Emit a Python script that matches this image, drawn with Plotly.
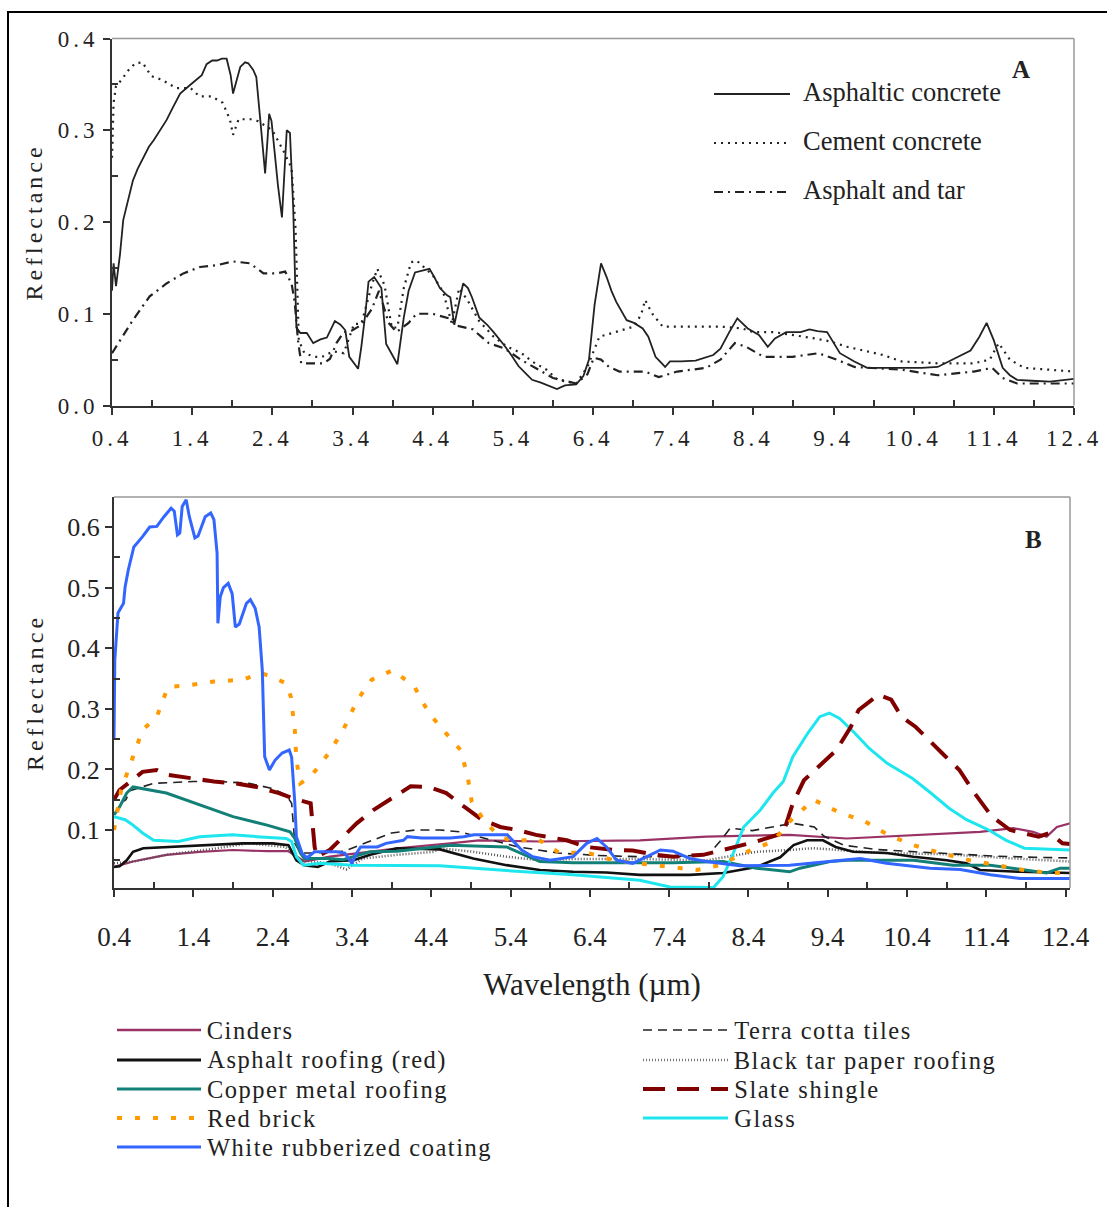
import plotly.graph_objects as go

W, H = 1107, 1207

# ---------------- Panel A data ----------------
asph_conc_x = [0.40,0.42,0.45,0.50,0.54,0.60,0.66,0.72,0.79,0.86,0.92,1.00,1.08,1.16,1.25,1.37,1.46,1.52,1.58,1.65,1.71,1.77,1.83,1.88,1.91,1.95,2.00,2.06,2.10,2.16,2.20,2.25,2.31,2.34,2.36,2.39,2.43,2.47,2.52,2.56,2.58,2.62,2.66,2.70,2.75,2.83,2.91,3.00,3.08,3.18,3.25,3.31,3.36,3.47,3.51,3.56,3.60,3.67,3.76,3.82,3.90,3.96,4.04,4.10,4.18,4.28,4.36,4.42,4.49,4.58,4.62,4.67,4.72,4.78,4.84,4.89,4.98,5.08,5.16,5.29,5.38,5.47,5.56,5.64,5.75,5.89,5.95,6.05,6.19,6.28,6.35,6.42,6.50,6.57,6.63,6.69,6.82,6.91,7.02,7.09,7.18,7.30,7.36,7.50,7.68,7.90,7.99,8.10,8.20,8.33,8.47,8.58,8.67,8.81,8.99,9.10,9.20,9.32,9.40,9.48,9.66,9.82,10.00,10.25,10.50,10.70,10.93,11.11,11.22,11.31,11.40,11.51,11.60,11.69,11.87,12.10,12.40]
asph_conc_y = [0.125,0.155,0.130,0.165,0.202,0.225,0.245,0.258,0.270,0.282,0.289,0.300,0.311,0.325,0.340,0.349,0.355,0.360,0.372,0.376,0.376,0.378,0.378,0.360,0.340,0.352,0.369,0.374,0.373,0.366,0.358,0.311,0.253,0.290,0.318,0.310,0.275,0.240,0.205,0.270,0.300,0.297,0.216,0.085,0.079,0.079,0.068,0.072,0.074,0.092,0.088,0.082,0.053,0.040,0.064,0.100,0.135,0.140,0.128,0.067,0.055,0.045,0.096,0.125,0.145,0.147,0.149,0.140,0.128,0.120,0.118,0.088,0.110,0.133,0.128,0.118,0.096,0.088,0.080,0.066,0.055,0.043,0.035,0.028,0.025,0.020,0.018,0.022,0.023,0.032,0.050,0.110,0.155,0.140,0.125,0.113,0.093,0.090,0.084,0.075,0.053,0.042,0.048,0.048,0.049,0.055,0.062,0.080,0.095,0.084,0.077,0.064,0.073,0.080,0.080,0.083,0.081,0.080,0.068,0.057,0.048,0.041,0.041,0.041,0.041,0.042,0.052,0.060,0.075,0.090,0.071,0.041,0.033,0.028,0.027,0.026,0.029]

cement_x = [0.40,0.42,0.45,0.52,0.60,0.69,0.78,0.89,1.02,1.20,1.38,1.49,1.64,1.78,1.87,1.91,1.98,2.13,2.22,2.40,2.53,2.64,2.69,2.71,2.73,2.80,2.93,3.02,3.16,3.29,3.42,3.51,3.64,3.71,3.80,3.89,3.96,4.04,4.13,4.20,4.31,4.40,4.53,4.64,4.73,4.84,4.98,5.16,5.33,5.51,5.64,5.82,5.96,6.19,6.33,6.48,6.64,6.91,7.00,7.05,7.14,7.27,7.99,8.26,8.40,8.66,9.17,9.35,9.57,10.02,10.25,10.70,11.15,11.35,11.46,11.60,11.78,12.40]
cement_y = [0.270,0.330,0.348,0.355,0.365,0.373,0.374,0.359,0.355,0.346,0.346,0.337,0.337,0.330,0.312,0.295,0.312,0.312,0.310,0.300,0.279,0.259,0.192,0.120,0.071,0.057,0.053,0.053,0.059,0.057,0.089,0.089,0.131,0.149,0.131,0.085,0.085,0.128,0.156,0.158,0.149,0.142,0.124,0.089,0.128,0.114,0.092,0.075,0.064,0.057,0.048,0.039,0.028,0.024,0.042,0.075,0.079,0.086,0.099,0.115,0.100,0.086,0.086,0.084,0.080,0.080,0.073,0.070,0.064,0.055,0.048,0.046,0.046,0.050,0.068,0.050,0.041,0.037]

tar_x = [0.40,0.50,0.66,0.87,1.08,1.29,1.50,1.71,1.91,2.12,2.29,2.45,2.56,2.64,2.68,2.72,2.76,2.91,3.04,3.12,3.20,3.29,3.40,3.51,3.64,3.73,3.85,3.95,4.10,4.20,4.40,4.60,4.70,4.90,5.00,5.10,5.30,5.50,5.70,5.90,6.19,6.33,6.41,6.50,6.60,6.73,7.05,7.22,7.45,7.81,7.99,8.17,8.31,8.53,8.89,9.21,9.44,9.66,10.25,10.70,11.15,11.38,11.51,11.69,12.40]
tar_y = [0.057,0.071,0.093,0.119,0.133,0.144,0.151,0.153,0.157,0.155,0.144,0.144,0.146,0.133,0.112,0.071,0.046,0.046,0.046,0.051,0.068,0.080,0.082,0.088,0.105,0.125,0.090,0.080,0.090,0.100,0.100,0.095,0.087,0.083,0.076,0.068,0.062,0.050,0.040,0.030,0.024,0.034,0.052,0.050,0.042,0.037,0.037,0.031,0.037,0.041,0.050,0.068,0.064,0.053,0.053,0.057,0.050,0.042,0.039,0.033,0.037,0.041,0.030,0.024,0.024]

# ---------------- Panel B data ----------------
cinders_x = [0.40,0.64,1.06,1.48,1.90,2.33,2.60,2.70,2.80,3.12,3.50,4.00,4.64,5.00,5.77,6.50,7.03,7.87,8.92,9.64,10.48,11.32,11.74,11.99,12.16,12.29,12.46]
cinders_y = [0.039,0.048,0.059,0.064,0.067,0.065,0.065,0.056,0.048,0.056,0.062,0.070,0.078,0.083,0.081,0.082,0.083,0.089,0.092,0.086,0.092,0.097,0.103,0.097,0.089,0.105,0.111]

roof_red_x = [0.40,0.47,0.56,0.64,0.77,1.06,1.60,2.02,2.40,2.60,2.70,2.80,2.97,3.12,3.42,3.63,3.97,4.51,4.93,5.35,5.77,6.19,6.61,7.03,7.66,8.08,8.50,8.80,8.97,9.14,9.34,9.50,9.72,10.14,10.48,10.90,11.15,11.32,11.83,12.46]
roof_red_y = [0.039,0.040,0.050,0.064,0.070,0.072,0.075,0.078,0.078,0.075,0.050,0.042,0.039,0.048,0.050,0.059,0.070,0.068,0.053,0.042,0.034,0.031,0.030,0.026,0.026,0.029,0.039,0.055,0.075,0.083,0.083,0.072,0.064,0.062,0.056,0.050,0.045,0.034,0.031,0.029]

copper_x = [0.40,0.47,0.56,0.64,1.06,1.48,1.90,2.33,2.62,2.68,2.75,2.80,3.12,3.29,3.42,3.63,3.97,4.43,4.64,5.35,5.55,5.77,6.19,7.45,8.08,8.50,8.92,9.05,9.43,9.64,10.48,10.98,11.45,11.74,12.16,12.33,12.46]
copper_y = [0.125,0.138,0.161,0.171,0.161,0.141,0.122,0.108,0.097,0.086,0.062,0.053,0.053,0.051,0.056,0.064,0.065,0.072,0.075,0.072,0.060,0.048,0.046,0.046,0.048,0.037,0.031,0.037,0.048,0.050,0.050,0.042,0.042,0.037,0.029,0.037,0.037]

brick_x = [0.40,0.49,0.58,0.67,0.76,0.94,1.08,1.35,1.66,2.03,2.25,2.39,2.57,2.63,2.68,2.70,2.75,2.88,3.11,3.29,3.47,3.65,3.92,4.19,4.37,4.55,4.77,4.86,4.91,5.09,5.27,5.45,5.73,6.02,6.36,6.70,7.08,7.41,7.75,8.04,8.40,8.71,8.92,9.22,9.53,9.87,10.16,10.48,10.82,11.19,11.53,11.87,12.20,12.46]
brick_y = [0.100,0.166,0.199,0.232,0.265,0.287,0.336,0.339,0.345,0.348,0.359,0.353,0.342,0.320,0.265,0.215,0.177,0.188,0.227,0.265,0.315,0.348,0.364,0.336,0.293,0.265,0.232,0.188,0.147,0.111,0.089,0.081,0.086,0.062,0.063,0.050,0.045,0.039,0.034,0.042,0.065,0.081,0.114,0.150,0.130,0.114,0.092,0.075,0.062,0.050,0.042,0.034,0.029,0.030]

rubber_x = [0.40,0.41,0.45,0.52,0.54,0.58,0.65,0.76,0.85,0.94,1.03,1.12,1.16,1.20,1.23,1.26,1.31,1.35,1.42,1.46,1.55,1.62,1.66,1.70,1.71,1.74,1.78,1.84,1.89,1.93,1.98,2.07,2.12,2.18,2.23,2.27,2.30,2.36,2.43,2.52,2.61,2.64,2.68,2.70,2.77,2.83,2.93,3.20,3.31,3.40,3.46,3.51,3.72,3.83,4.05,4.10,4.28,4.64,4.81,4.94,5.36,5.44,5.54,5.68,5.90,6.19,6.36,6.49,6.61,6.74,6.94,7.12,7.29,7.45,7.66,7.87,8.29,8.92,9.43,9.81,10.14,10.69,11.07,11.45,11.83,12.46]
rubber_y = [0.250,0.380,0.458,0.474,0.501,0.529,0.567,0.584,0.600,0.601,0.617,0.631,0.626,0.587,0.590,0.634,0.645,0.617,0.582,0.585,0.617,0.623,0.612,0.557,0.441,0.485,0.500,0.507,0.490,0.435,0.440,0.474,0.480,0.466,0.435,0.364,0.221,0.199,0.215,0.227,0.232,0.220,0.145,0.089,0.062,0.054,0.064,0.064,0.062,0.045,0.062,0.072,0.072,0.078,0.083,0.089,0.087,0.087,0.089,0.092,0.092,0.081,0.067,0.056,0.050,0.056,0.078,0.086,0.072,0.050,0.045,0.056,0.067,0.065,0.053,0.048,0.041,0.042,0.048,0.053,0.045,0.037,0.035,0.026,0.020,0.020]

terra_x = [0.49,0.55,0.60,0.76,0.90,1.40,1.74,2.10,2.38,2.57,2.64,2.68,2.75,2.93,3.30,3.60,3.90,4.20,4.51,4.76,5.10,5.50,6.00,6.50,7.00,7.50,7.90,8.04,8.17,8.45,8.70,8.96,9.23,9.35,9.60,10.00,10.50,11.00,11.50,12.00,12.46]
terra_y = [0.145,0.150,0.165,0.171,0.177,0.180,0.180,0.177,0.169,0.158,0.144,0.078,0.062,0.062,0.065,0.080,0.095,0.100,0.100,0.097,0.085,0.072,0.062,0.058,0.056,0.056,0.060,0.081,0.103,0.099,0.105,0.111,0.105,0.090,0.075,0.068,0.064,0.060,0.057,0.055,0.054]

tarpaper_x = [0.40,0.64,1.06,1.60,2.10,2.56,2.75,3.12,3.33,3.54,3.97,4.43,4.51,4.93,5.35,5.77,6.19,7.03,7.87,8.50,8.92,9.22,10.06,10.90,11.74,12.46]
tarpaper_y = [0.045,0.048,0.059,0.068,0.078,0.072,0.050,0.045,0.035,0.053,0.059,0.064,0.070,0.064,0.056,0.050,0.052,0.052,0.050,0.064,0.067,0.070,0.062,0.060,0.053,0.048]

slate_x = [0.40,0.47,0.58,0.76,0.94,1.07,1.40,1.66,1.93,2.20,2.48,2.66,2.88,2.90,2.93,2.96,3.12,3.29,3.46,3.67,3.88,4.14,4.37,4.59,4.82,5.04,5.27,5.49,5.72,6.11,6.36,6.70,6.94,7.24,7.45,7.83,8.08,8.50,8.84,8.96,9.10,9.37,9.51,9.69,9.79,10.04,10.20,10.33,10.51,10.84,11.06,11.25,11.47,11.70,12.06,12.20,12.36,12.46]
slate_y = [0.150,0.166,0.177,0.196,0.199,0.191,0.185,0.180,0.177,0.171,0.161,0.152,0.144,0.111,0.072,0.056,0.067,0.089,0.111,0.133,0.150,0.172,0.171,0.161,0.138,0.117,0.105,0.100,0.092,0.083,0.072,0.067,0.066,0.059,0.056,0.059,0.067,0.081,0.095,0.144,0.182,0.215,0.232,0.270,0.298,0.323,0.315,0.287,0.270,0.227,0.199,0.161,0.122,0.100,0.089,0.095,0.078,0.077]

glass_x = [0.40,0.54,0.62,0.69,0.76,0.90,1.21,1.48,1.89,2.20,2.57,2.64,2.70,2.79,3.00,3.42,4.51,5.35,6.19,7.03,7.41,7.96,8.08,8.21,8.34,8.55,8.71,8.84,8.96,9.15,9.30,9.42,9.55,9.74,9.92,10.15,10.47,10.70,10.93,11.15,11.43,11.65,11.88,12.46]
glass_y = [0.122,0.117,0.110,0.103,0.095,0.083,0.081,0.089,0.092,0.089,0.086,0.081,0.056,0.042,0.045,0.042,0.041,0.033,0.026,0.017,0.006,0.005,0.023,0.062,0.105,0.133,0.161,0.180,0.221,0.260,0.287,0.293,0.284,0.260,0.235,0.210,0.185,0.161,0.136,0.117,0.100,0.083,0.070,0.067]

x_ticks = [0.4, 1.4, 2.4, 3.4, 4.4, 5.4, 6.4, 7.4, 8.4, 9.4, 10.4, 11.4, 12.4]
x_tick_labels = ["0.4", "1.4", "2.4", "3.4", "4.4", "5.4", "6.4", "7.4", "8.4", "9.4", "10.4", "11.4", "12.4"]
yA_ticks = [0.0, 0.1, 0.2, 0.3, 0.4]
yA_tick_labels = ["0.0", "0.1", "0.2", "0.3", "0.4"]
yB_ticks = [0.1, 0.2, 0.3, 0.4, 0.5, 0.6]
yB_tick_labels = ["0.1", "0.2", "0.3", "0.4", "0.5", "0.6"]

FONT = "Liberation Serif, Times New Roman, serif"
TXT = "#222"
AX = "#333"
LEG_SPACING = 1.5  # px letter-spacing for panel B legend labels

def px(x):
    return x / W

def py(y):
    return 1 - y / H

fig = go.Figure()

# Panel A traces
fig.add_trace(go.Scatter(x=asph_conc_x, y=asph_conc_y, mode="lines", name="Asphaltic concrete",
                         line=dict(color="#222", width=1.8), xaxis="x", yaxis="y", showlegend=False))
fig.add_trace(go.Scatter(x=cement_x, y=cement_y, mode="lines", name="Cement concrete",
                         line=dict(color="#222", width=2.2, dash="2px,5px"), xaxis="x", yaxis="y", showlegend=False))
fig.add_trace(go.Scatter(x=tar_x, y=tar_y, mode="lines", name="Asphalt and tar",
                         line=dict(color="#222", width=2.2, dash="9px,5px,2px,5px"), xaxis="x", yaxis="y", showlegend=False))

# Panel B traces
b_series = [
    ("Cinders", cinders_x, cinders_y, "#993366", 2.2, "solid"),
    ("Black tar paper roofing", tarpaper_x, tarpaper_y, "#555555", 2.5, "1px,2px"),
    ("Terra cotta tiles", terra_x, terra_y, "#222222", 1.6, "9px,6px"),
    ("Asphalt roofing (red)", roof_red_x, roof_red_y, "#111111", 2.6, "solid"),
    ("Copper metal roofing", copper_x, copper_y, "#138078", 3, "solid"),
    ("Glass", glass_x, glass_y, "#1ee6ee", 3, "solid"),
    ("Slate shingle", slate_x, slate_y, "#800000", 4, "22px,12px"),
    ("Red brick", brick_x, brick_y, "#ff9a00", 4, "5px,13px"),
    ("White rubberized coating", rubber_x, rubber_y, "#3366ff", 3, "solid"),
]
for name, xs, ys, col, wd, ds in b_series:
    fig.add_trace(go.Scatter(x=xs, y=ys, mode="lines", name=name,
                             line=dict(color=col, width=wd, dash=ds),
                             xaxis="x2", yaxis="y2", showlegend=False))

common_axis = dict(showgrid=False, zeroline=False, showline=True, linecolor=AX, linewidth=2,
                   ticks="outside", ticklen=7, tickwidth=1.5, tickcolor=AX, automargin=False)

fig.update_layout(
    width=W, height=H,
    margin=dict(l=0, r=0, t=0, b=0),
    paper_bgcolor="white", plot_bgcolor="white",
    font=dict(family=FONT, color=TXT),
    xaxis=dict(domain=[px(112), px(1074)], range=[0.4, 12.4], anchor="y",
               tickmode="array", tickvals=x_ticks, ticktext=x_tick_labels,
               tickfont=dict(family=FONT, size=23, color=TXT), ticklabelstandoff=4,
               minor=dict(tickvals=[0.9 + i for i in range(12)], ticks="inside", ticklen=6, tickcolor=AX, tickwidth=1.5),
               **common_axis),
    yaxis=dict(domain=[py(405.5), py(38.5)], range=[0, 0.4], anchor="x",
               tickmode="array", tickvals=yA_ticks, ticktext=yA_tick_labels,
               tickfont=dict(family=FONT, size=23, color=TXT),
               minor=dict(tickvals=[0.05, 0.15, 0.25, 0.35], ticks="inside", ticklen=6, tickcolor=AX, tickwidth=1.5),
               title=dict(text="Reflectance", font=dict(family=FONT, size=24, color=TXT), standoff=20),
               **common_axis),
    xaxis2=dict(domain=[px(114), px(1070)], range=[0.4, 12.455], anchor="y2",
                tickmode="array", tickvals=x_ticks, ticktext=x_tick_labels,
                tickfont=dict(family=FONT, size=27, color=TXT), ticklabelstandoff=17,
                minor=dict(tickvals=[0.9 + i for i in range(12)], ticks="inside", ticklen=6, tickcolor=AX, tickwidth=1.5),
                title=dict(text="Wavelength (µm)", font=dict(family=FONT, size=31, color=TXT), standoff=22),
                **common_axis),
    yaxis2=dict(domain=[py(888), py(497)], range=[0.0043, 0.6495], anchor="x2",
                tickmode="array", tickvals=yB_ticks, ticktext=yB_tick_labels,
                tickfont=dict(family=FONT, size=26, color=TXT),
                minor=dict(tickvals=[0.05, 0.15, 0.25, 0.35, 0.45, 0.55], ticks="inside", ticklen=6, tickcolor=AX, tickwidth=1.5),
                title=dict(text="Reflectance", font=dict(family=FONT, size=24, color=TXT), standoff=17),
                **common_axis),
)

shapes = []
# frames (top/right light gray)
for xr, yr in (("x domain", "y domain"), ("x2 domain", "y2 domain")):
    shapes.append(dict(type="line", xref=xr, yref=yr, x0=0, x1=1, y0=1, y1=1, line=dict(color="#999", width=1.5)))
    shapes.append(dict(type="line", xref=xr, yref=yr, x0=1, x1=1, y0=0, y1=1, line=dict(color="#999", width=1.5)))
# outer border
shapes.append(dict(type="rect", xref="paper", yref="paper", x0=px(8), x1=1.05, y0=-0.05, y1=py(12),
                   line=dict(color="black", width=2), fillcolor="rgba(0,0,0,0)"))

annotations = []
# Legend A
legA = [("Asphaltic concrete", 94, "solid", 1.8), ("Cement concrete", 143, "2px,5px", 2.2), ("Asphalt and tar", 192, "9px,5px,2px,5px", 2.2)]
for label, yy, ds, wd in legA:
    shapes.append(dict(type="line", xref="paper", yref="paper", x0=px(714), x1=px(790), y0=py(yy), y1=py(yy),
                       line=dict(color="#222", width=wd, dash=ds)))
    annotations.append(dict(text=label, xref="paper", yref="paper", x=px(801), y=py(yy - 2), xanchor="left", yanchor="middle",
                            showarrow=False, font=dict(family=FONT, size=26.5, color=TXT)))
annotations.append(dict(text="<b>A</b>", xref="paper", yref="paper", x=px(1021), y=py(69), xanchor="center", yanchor="middle",
                        showarrow=False, font=dict(family=FONT, size=25, color=TXT)))
annotations.append(dict(text="<b>B</b>", xref="paper", yref="paper", x=px(1033), y=py(539), xanchor="center", yanchor="middle",
                        showarrow=False, font=dict(family=FONT, size=25, color=TXT)))

# Legend B
first_b_legend = len(annotations)
legB_left = [("Cinders", 1030, "#993366", 2.5, "solid"), ("Asphalt roofing (red)", 1060, "#111111", 3, "solid"),
             ("Copper metal roofing", 1089, "#138078", 3, "solid"), ("Red brick", 1118, "#ff9a00", 4, "5px,13px"),
             ("White rubberized coating", 1147, "#3366ff", 3, "solid")]
legB_right = [("Terra cotta tiles", 1030, "#222222", 1.6, "9px,6px"), ("Black tar paper roofing", 1060, "#777777", 2.5, "1px,2px"),
              ("Slate shingle", 1089, "#800000", 4, "22px,12px"), ("Glass", 1118, "#1ee6ee", 3, "solid")]
for items, x0, x1, tx in ((legB_left, 117, 201, 206), (legB_right, 643, 728, 733)):
    for label, yy, col, wd, ds in items:
        shapes.append(dict(type="line", xref="paper", yref="paper", x0=px(x0), x1=px(x1), y0=py(yy), y1=py(yy),
                           line=dict(color=col, width=wd, dash=ds)))
        # letter-spacing (added by CSS below) widens the centred text on both sides; shift right to compensate
        shift = len(label) * LEG_SPACING / 2.0
        annotations.append(dict(text=label, xref="paper", yref="paper", x=px(tx + shift), y=py(yy), xanchor="left", yanchor="middle",
                                showarrow=False, borderpad=0, font=dict(family=FONT, size=24.5, color=TXT)))
n_ann = len(annotations)

fig.update_layout(shapes=shapes, annotations=annotations)

legend_sel = ", ".join('.annotation[data-index="%d"] text' % i for i in range(first_b_legend, n_ann))
post = """
var s = document.createElement('style');
s.innerHTML = 'body{margin:0;overflow:hidden}' +
  '.xtick text, .ytick text {letter-spacing:4px}' +
  '.ytitle, .y2title {letter-spacing:4px}' +
  '%s {letter-spacing:%spx}';
document.head.appendChild(s);
""" % (legend_sel, LEG_SPACING)
fig.write_html("out.html", config={"displayModeBar": False}, post_script=post)
